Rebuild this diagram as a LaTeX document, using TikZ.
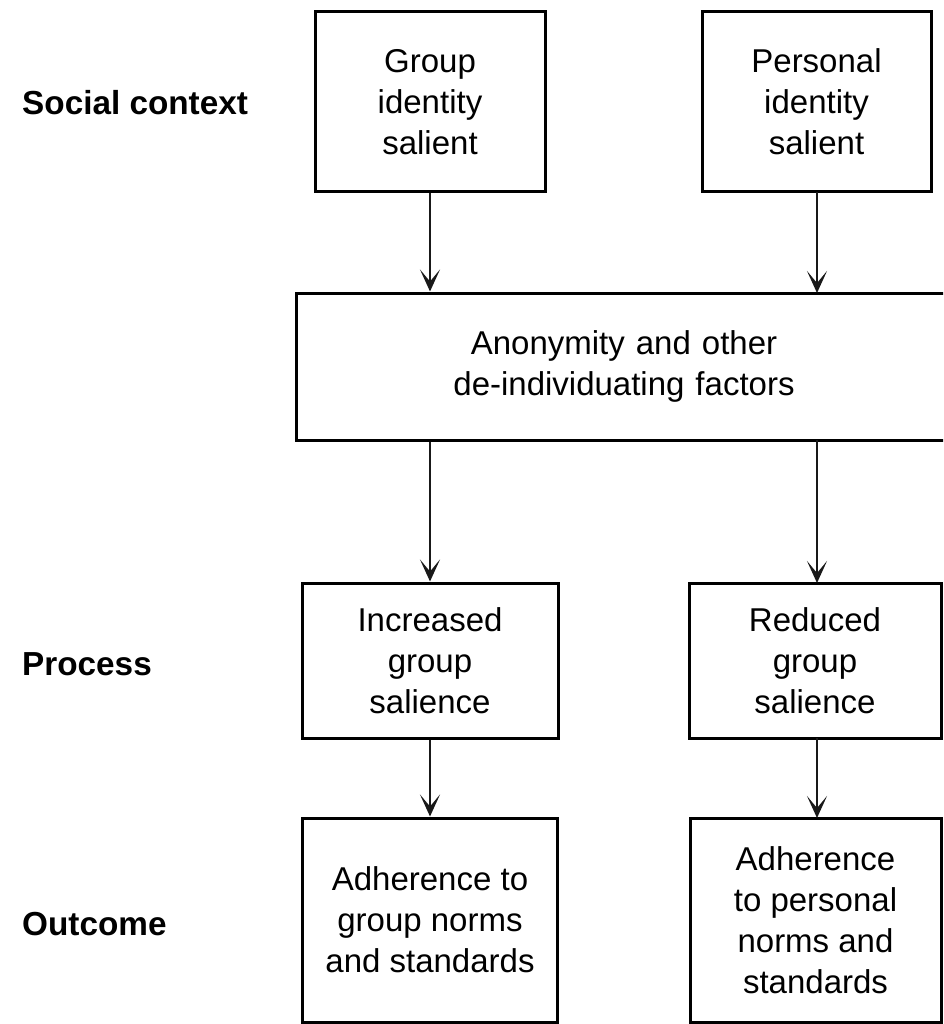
\documentclass[tikz,border=0pt]{standalone}
\usepackage{fontspec}
\setmainfont{Liberation Sans}
\usetikzlibrary{arrows.meta}
\begin{document}
\begin{tikzpicture}[x=1pt,y=-1pt,
  box/.style={draw=black, line width=3pt, align=center, inner sep=0pt,
    font=\fontsize{33}{41}\selectfont},
  arr/.style={draw=black!90, line width=2.4pt, -{Stealth[length=22pt,width=20pt,inset=12pt]}},
  lbl/.style={anchor=base west, inner sep=0pt, font=\fontsize{33.3}{38}\selectfont\bfseries}]
\clip (0,0) rectangle (943,1024);
\fill[white] (0,0) rectangle (943,1024);
% top row
\node[box, minimum width=230pt, minimum height=180pt] (g1) at (430,102) {Group\\identity\\salient};
\node[box, minimum width=229pt, minimum height=180pt] (p1) at (816.5,102) {Personal\\identity\\salient};
% middle wide box
\node[box, minimum width=656pt, minimum height=147pt, text width=656pt] (anon) at (624,366.5) {Anonymity and other\\de-individuating factors};
% process row
\node[box, minimum width=256pt, minimum height=155pt] (inc) at (430,660.5) {Increased\\group\\salience};
\node[box, minimum width=252pt, minimum height=155pt] (red) at (815,660.5) {Reduced\\group\\salience};
% outcome row
\node[box, minimum width=255pt, minimum height=204pt] (adg) at (430,920) {Adherence to\\group norms\\and standards};
\node[box, minimum width=251pt, minimum height=204pt] (adp) at (815.5,920) {Adherence\\to personal\\norms and\\standards};
% labels
\node[lbl] (lsc) at (22,115) {Social context};
\node[lbl] (lpr) at (22,675) {Process};
\node[lbl] (lou) at (22,935) {Outcome};
% arrows
\coordinate (a2t) at (817,192);
\coordinate (a2b) at (817,293);
\coordinate (a4t) at (817,440);
\coordinate (a4b) at (817,583);
\coordinate (a6t) at (817,738);
\coordinate (a6b) at (817,818);
\draw[arr] (g1.south) -- (g1.south |- anon.north);
\draw[arr] (a2t) -- (a2b);
\draw[arr] (inc.north |- anon.south) -- (inc.north);
\draw[arr] (a4t) -- (a4b);
\draw[arr] (inc.south) -- (adg.north);
\draw[arr] (a6t) -- (a6b);
\end{tikzpicture}
\end{document}
